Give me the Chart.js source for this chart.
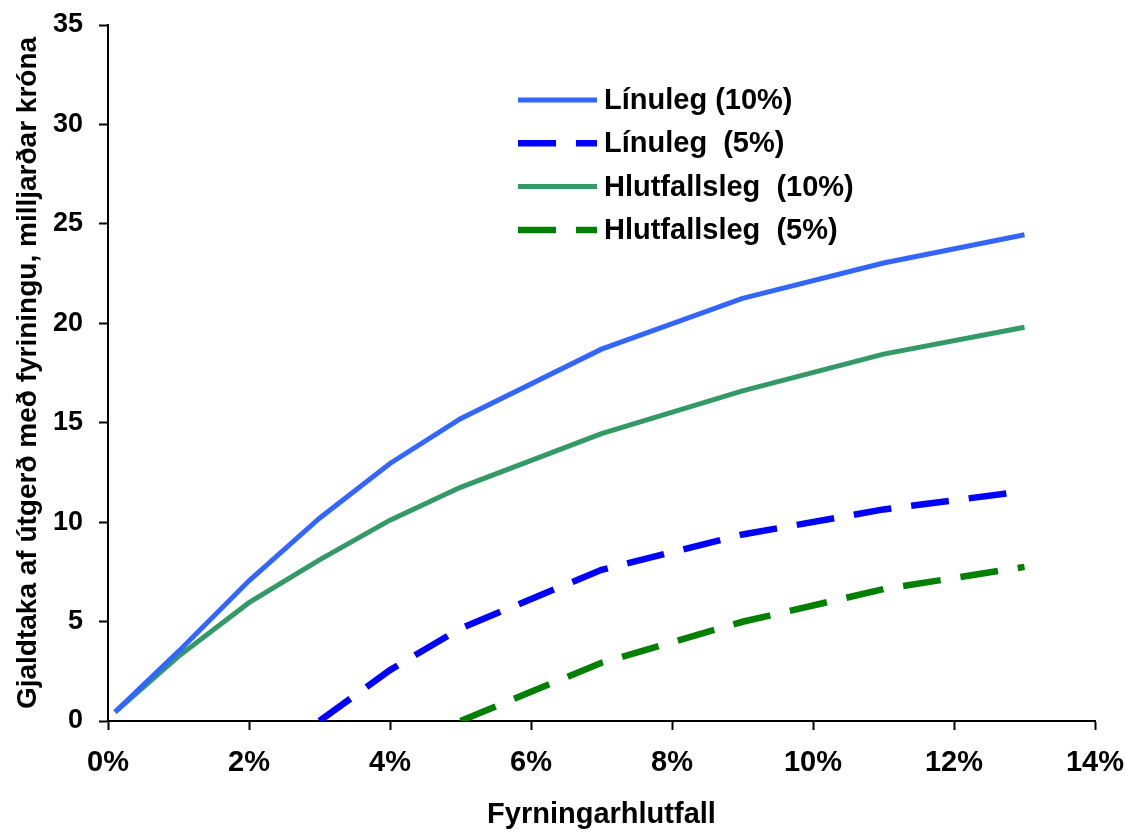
<!DOCTYPE html>
<html>
<head>
<meta charset="utf-8">
<script src="https://cdn.jsdelivr.net/npm/chart.js@4.4.1/dist/chart.umd.min.js"></script>
<style>
    html, body { margin: 0; padding: 0; background: #fff; }
    #wrap { width: 1125px; height: 832px; }
</style>
</head>
<body>
<div id="wrap"><canvas id="chart" width="1125" height="832"></canvas></div>
<script>
// x values in percent (Fyrningarhlutfall)
const xFull = [0.1, 1, 2, 3, 4, 5, 7, 9, 11, 13];
const linuleg10 = [0.45, 3.5, 7.05, 10.2, 12.95, 15.2, 18.7, 21.25, 23.03, 24.45];
const hlutfallsleg10 = [0.45, 3.25, 5.95, 8.1, 10.1, 11.75, 14.45, 16.6, 18.45, 19.8];

const xLinuleg5 = [3, 4, 5, 7, 9, 11, 13];
const linuleg5 = [0, 2.56, 4.66, 7.6, 9.38, 10.64, 11.56];

const xHlutfallsleg5 = [5, 7, 9, 11, 13];
const hlutfallsleg5 = [0, 2.93, 4.99, 6.63, 7.75];

const seriesLabels = ['Línuleg (10%)', 'Línuleg  (5%)', 'Hlutfallsleg  (10%)', 'Hlutfallsleg  (5%)'];
const xTicks = [0, 2, 4, 6, 8, 10, 12, 14];
const yTicks = [0, 5, 10, 15, 20, 25, 30, 35];

const FONT = "'Liberation Sans', Arial, sans-serif";

function toPoints(xs, ys) {
    return xs.map((x, i) => ({x: x, y: ys[i]}));
}

// legend drawn inside the plot, like the original
const insideLegend = {
    id: 'insideLegend',
    afterDraw(chart) {
        let ctx = chart.ctx;
        let left = 518;
        let top = 100;
        let step = 43.3;
        ctx.save();
        chart.data.datasets.forEach((ds, i) => {
            let y = top + i * step;
            ctx.strokeStyle = ds.borderColor;
            ctx.lineWidth = ds.borderWidth;
            ctx.setLineDash(ds.borderDash || []);
            ctx.lineCap = 'butt';
            ctx.beginPath();
            ctx.moveTo(left, y);
            ctx.lineTo(left + 79, y);
            ctx.stroke();
            ctx.setLineDash([]);
            ctx.fillStyle = '#000';
            ctx.font = 'bold 29px ' + FONT;
            ctx.textBaseline = 'middle';
            ctx.textAlign = 'left';
            ctx.fillText(ds.label, left + 86, y + 1);
        });
        ctx.restore();
    }
};

let ctx = document.getElementById('chart');
let chart = new Chart(ctx, {
    type: 'scatter',
    data: {
        datasets: [
            {
                label: seriesLabels[0],
                showLine: true,
                borderColor: '#3366FF',
                borderWidth: 5,
                pointRadius: 0,
                data: toPoints(xFull, linuleg10)
            },
            {
                label: seriesLabels[1],
                showLine: true,
                borderColor: '#0000FF',
                borderWidth: 6.5,
                borderDash: [38, 20],
                pointRadius: 0,
                data: toPoints(xLinuleg5, linuleg5)
            },
            {
                label: seriesLabels[2],
                showLine: true,
                borderColor: '#339966',
                borderWidth: 5,
                pointRadius: 0,
                data: toPoints(xFull, hlutfallsleg10)
            },
            {
                label: seriesLabels[3],
                showLine: true,
                borderColor: '#008000',
                borderWidth: 6.5,
                borderDash: [38, 20],
                pointRadius: 0,
                data: toPoints(xHlutfallsleg5, hlutfallsleg5)
            }
        ]
    },
    options: {
        responsive: false,
        animation: false,
        layout: {
            padding: {left: 0, right: 30, top: 25, bottom: 0}
        },
        plugins: {
            legend: {display: false},
            tooltip: {enabled: false}
        },
        scales: {
            x: {
                type: 'linear',
                min: 0,
                max: 14,
                afterBuildTicks: (scale) => {
                    scale.ticks = xTicks.map(v => ({value: v}));
                },
                afterFit: (scale) => {
                    // fixed plot edges, label overhang is handled by layout padding
                    scale.height = 111;
                    scale.paddingLeft = 0;
                    scale.paddingRight = 0;
                },
                border: {color: '#000', width: 2},
                grid: {
                    drawOnChartArea: false,
                    tickLength: 9,
                    tickColor: '#000',
                    tickWidth: 2
                },
                ticks: {
                    color: '#000',
                    padding: 16,
                    maxRotation: 0,
                    font: {family: FONT, size: 29, weight: 'bold'},
                    callback: (v) => v + '%'
                },
                title: {
                    display: true,
                    text: 'Fyrningarhlutfall',
                    color: '#000',
                    padding: {top: 20, bottom: 0},
                    font: {family: FONT, size: 29, weight: 'bold'}
                }
            },
            y: {
                min: 0,
                max: 35,
                afterBuildTicks: (scale) => {
                    scale.ticks = yTicks.map(v => ({value: v}));
                },
                afterFit: (scale) => {
                    scale.width = 108;
                    scale.paddingTop = 0;
                    scale.paddingBottom = 0;
                },
                border: {color: '#000', width: 2},
                grid: {
                    drawOnChartArea: false,
                    tickLength: 9,
                    tickColor: '#000',
                    tickWidth: 2
                },
                ticks: {
                    color: '#000',
                    padding: 16,
                    font: {family: FONT, size: 27, weight: 'bold'}
                },
                title: {
                    display: true,
                    text: 'Gjaldtaka af útgerð með fyriningu, milljarðar króna',
                    color: '#000',
                    padding: {top: 11, bottom: 0},
                    font: {family: FONT, size: 28, weight: 'bold'}
                }
            }
        }
    },
    plugins: [insideLegend]
});
</script>
</body>
</html>
